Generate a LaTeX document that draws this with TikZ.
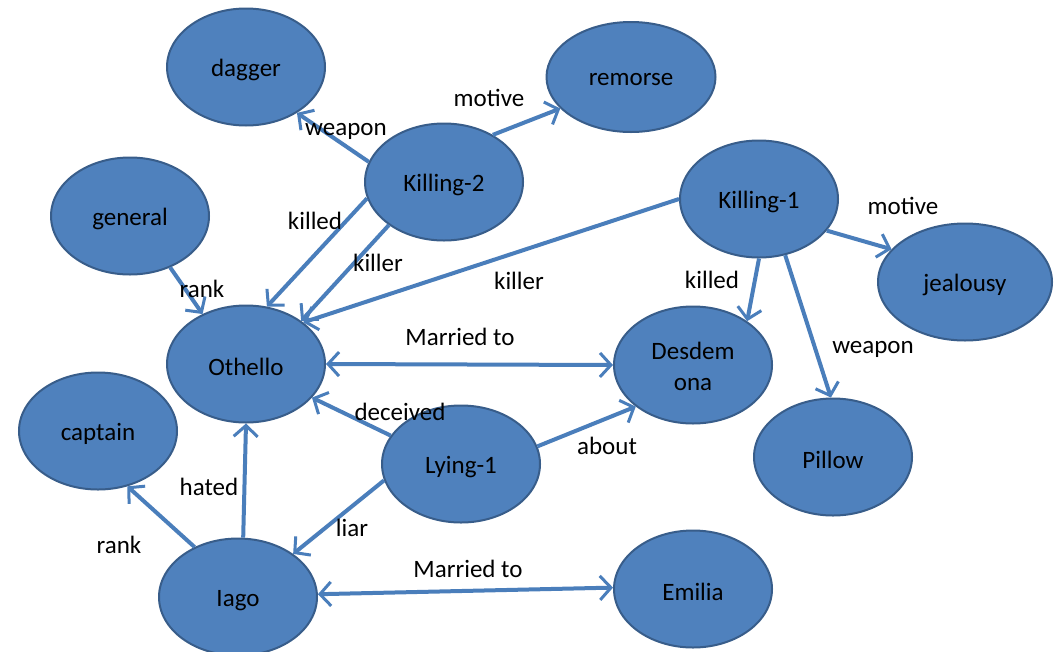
\documentclass[tikz,border=0pt]{standalone}
\usepackage{fontspec}
\setmainfont{Carlito}
\usetikzlibrary{shapes.geometric,arrows.meta}
\definecolor{nodefill}{HTML}{4F81BD}
\definecolor{nodeline}{HTML}{385D8A}
\definecolor{edgeblue}{HTML}{4A7EBB}
\begin{document}
\begin{tikzpicture}[x=1pt,y=-1pt,
  concept/.style={ellipse,fill=nodefill,draw=nodeline,line width=2pt,
    minimum width=158pt,minimum height=117pt,inner sep=0pt},
  ntext/.style={font=\fontsize{25}{31}\selectfont,align=center,text=black,
    inner sep=0pt,yshift=-3pt},
  rel/.style={draw=edgeblue,line width=4pt,
    -{Straight Barb[length=11pt,width=24pt,line width=3pt]}},
  birel/.style={rel,{Straight Barb[length=11pt,width=24pt,line width=3pt]}-{Straight Barb[length=11pt,width=24pt,line width=3pt]}},
  lbl/.style={font=\fontsize{25}{31}\selectfont,text=black,inner sep=0pt}]
\useasboundingbox (0,0) rectangle (1059,651);
\fill[white] (0,0) rectangle (1059,651);
\clip (0,0) rectangle (1059,651);

% concepts
\node[concept,label={[ntext]center:dagger}] (dagger) at (246,67) {};
\node[concept,minimum width=169pt,minimum height=110pt,label={[ntext]center:remorse}] (remorse) at (631,77) {};
\node[concept,label={[ntext]center:Killing-2}] (killtwo) at (444,182) {};
\node[concept,label={[ntext]center:general}] (general) at (130,216) {};
\node[concept,label={[ntext]center:Killing-1}] (killone) at (759,199) {};
\node[concept,minimum width=174pt,label={[ntext]center:jealousy}] (jealousy) at (965,282) {};
\node[concept,label={[ntext]center:Othello}] (othello) at (246,364) {};
\node[concept,label={[ntext,yshift=2pt]center:Desdem\\ona}] (desd) at (693,365) {};
\node[concept,label={[ntext]center:Pillow}] (pillow) at (833,457) {};
\node[concept,label={[ntext]center:captain}] (captain) at (98,431) {};
\node[concept,label={[ntext]center:Lying-1}] (lying) at (461,464) {};
\node[concept,label={[ntext,yshift=-1pt]center:Iago}] (iago) at (238,597) {};
\node[concept,label={[ntext]center:Emilia}] (emilia) at (693,589) {};

% relations
\draw[rel] (killtwo.165) -- (dagger.-42);
\draw[rel] (killtwo.44) -- (remorse.-156);
\draw[rel] (killtwo.-168) -- (othello.70);
\draw[rel] (killtwo.-142) -- (othello.38);
\draw[rel] (killone.180) -- (othello.36);
\draw[rel] (general.-52) -- (othello.131);
\draw[rel] (killone.-25) -- (jealousy.156);
\draw[rel] (killone.-90) -- (desd.39);
\draw[rel] (killone.-65) -- (pillow.92);
\draw[birel] (othello.0) -- (desd.180);
\draw[rel] (lying.158) -- (othello.-27);
\draw[rel] (lying.13) -- (desd.216);
\draw[rel] (lying.-168) -- (iago.38);
\draw[rel] (iago.85) -- (othello.-90);
\draw[rel] (iago.131) -- (captain.-62);
\draw[birel] (iago.2) -- (emilia.179);

% relation labels
\node[lbl] (l1)  at (346,131) {weapon};
\node[lbl] (l2)  at (489,98)  {motive};
\node[lbl] (l3)  at (315,221) {killed};
\node[lbl] (l4)  at (378,263) {killer};
\node[lbl] (l5)  at (519,281) {killer};
\node[lbl] (l6)  at (202,289) {rank};
\node[lbl] (l7)  at (903,206) {motive};
\node[lbl] (l8)  at (712,280) {killed};
\node[lbl] (l9)  at (873,349) {weapon};
\node[lbl] (l10) at (460,337) {Married to};
\node[lbl] (l11) at (400,412) {deceived};
\node[lbl] (l12) at (607,446) {about};
\node[lbl] (l13) at (352,528) {liar};
\node[lbl] (l14) at (209,487) {hated};
\node[lbl] (l15) at (119,545) {rank};
\node[lbl] (l16) at (468,569) {Married to};
\end{tikzpicture}
\end{document}
